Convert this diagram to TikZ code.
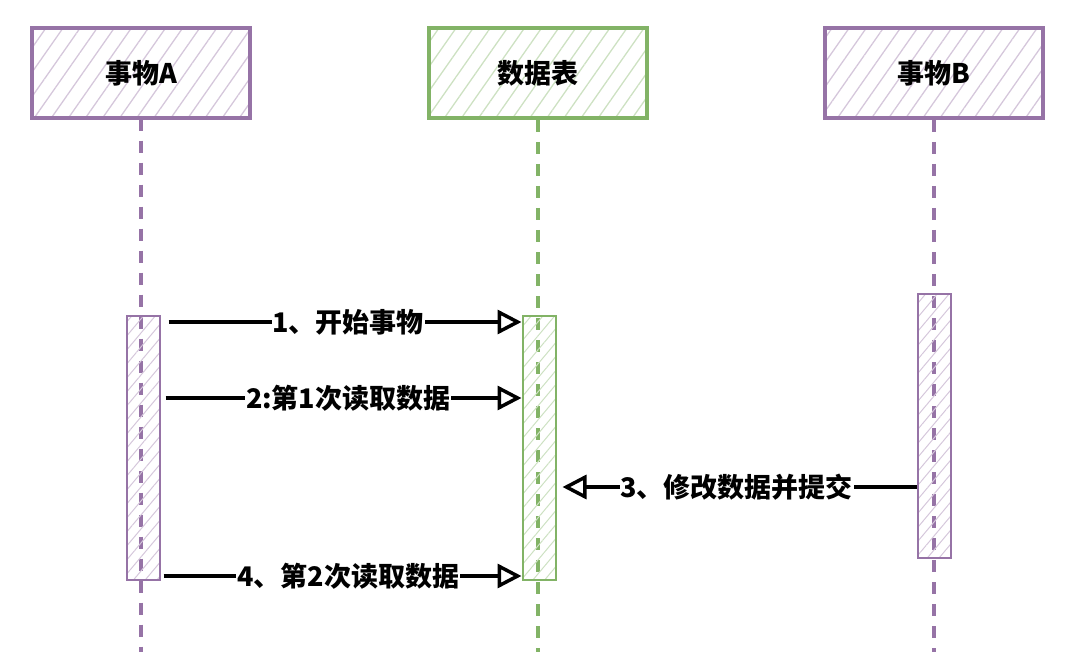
\documentclass[tikz,border=0pt]{standalone}
\usepackage{fontspec}
\newfontfamily\cjk{Noto Sans CJK SC}
\usetikzlibrary{positioning, arrows.meta, patterns.meta}
\definecolor{lilac}{RGB}{150,115,166}
\definecolor{sage}{RGB}{130,179,102}

\begin{document}
\begin{tikzpicture}[
    x=1pt, y=-1pt,
    every node/.style={font=\cjk\bfseries\fontsize{27}{30}\selectfont, inner sep=2pt},
    head/.style={draw=#1, line width=4pt, minimum width=218pt, minimum height=90pt,
      pattern={Lines[angle=55, distance=14pt, line width=1.3pt]}, pattern color=#1!40},
    life/.style={draw=#1, line width=4pt, dash pattern=on 12pt off 10pt},
    act/.style={draw=#1, line width=2pt, minimum width=33pt, minimum height=264pt,
      pattern={Lines[angle=50, distance=9pt, line width=1pt]}, pattern color=#1!40},
    msg/.style={draw, line width=4pt, -{Triangle[open, length=24pt, width=24pt, line width=3.5pt]}},
    lbl/.style={fill=white, inner sep=1pt}
  ]
  \useasboundingbox (0,0) rectangle (1068,655);

  \node[head=lilac] (hA) at (141,73) {事物A};
  \node[head=sage]  (hT) at (538,73) {数据表};
  \node[head=lilac] (hB) at (934,73) {事物B};

  \draw[life=lilac] (hA.south) -- (141,652);
  \draw[life=sage]  (hT.south) -- (538,652);
  \draw[life=lilac] (hB.south) -- (934,652);

  \node[act=lilac] (aA) at (143.5,448) {};
  \node[act=sage]  (aT) at (539,448) {};
  \node[act=lilac] (aB) at (934.5,426) {};

  \draw[msg, shorten <=8pt] (aA.east |- 0,322) -- node[lbl, pos=.52] {1、开始事物} (aT.west |- 0,322);
  \draw[msg, shorten <=5pt] (aA.east |- 0,398) -- node[lbl, pos=.52] {2:第1次读取数据} (aT.west |- 0,398);
  \draw[msg, shorten >=6pt] (aB.west |- 0,487) -- node[lbl] {3、修改数据并提交} (aT.east |- 0,487);
  \draw[msg, shorten <=3pt] (aA.east |- 0,576) -- node[lbl, pos=.52] {4、第2次读取数据} (aT.west |- 0,576);
\end{tikzpicture}
\end{document}
